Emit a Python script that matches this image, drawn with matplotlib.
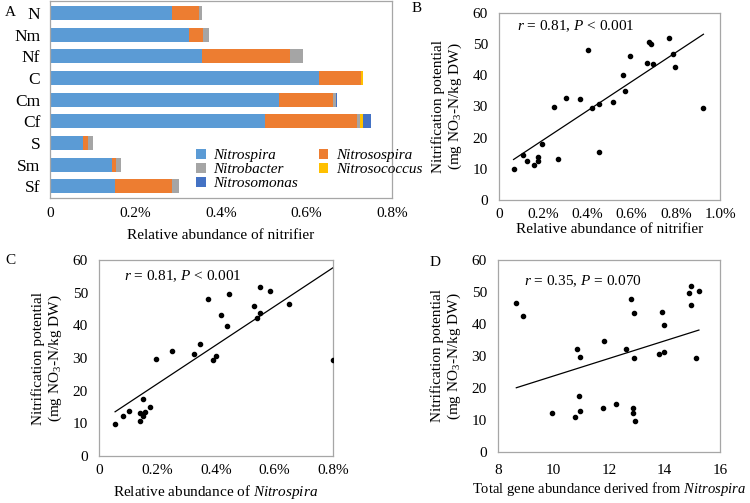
import numpy as np
import matplotlib.pyplot as plt
from matplotlib.ticker import FuncFormatter

plt.rcParams['font.family'] = ['Liberation Serif', 'DejaVu Serif']
plt.rcParams['mathtext.fontset'] = 'custom'
plt.rcParams['mathtext.rm'] = 'Liberation Serif'
plt.rcParams['mathtext.it'] = 'Liberation Serif:italic'

# panel A: relative abundance (%) of nitrifier genera per sample
samples = ['N', 'Nm', 'Nf', 'C', 'Cm', 'Cf', 'S', 'Sm', 'Sf']
genera = ['Nitrospira', 'Nitrosospira', 'Nitrobacter', 'Nitrosococcus', 'Nitrosomonas']
nitrospira = [0.286, 0.324, 0.356, 0.629, 0.536, 0.503, 0.078, 0.146, 0.152]
nitrosospira = [0.063, 0.033, 0.205, 0.098, 0.127, 0.214, 0.011, 0.008, 0.134]
nitrobacter = [0.007, 0.016, 0.031, 0.001, 0.005, 0.008, 0.012, 0.013, 0.016]
nitrosococcus = [0.000, 0.000, 0.000, 0.003, 0.002, 0.008, 0.000, 0.000, 0.000]
nitrosomonas = [0.000, 0.000, 0.000, 0.001, 0.002, 0.017, 0.000, 0.000, 0.000]
colors = ['#5B9BD5', '#ED7D31', '#A5A5A5', '#FFC000', '#4472C4']

# panel B: total nitrifier abundance (%) vs nitrification potential
b_x = [0.066, 0.110, 0.128, 0.158, 0.176, 0.176, 0.194, 0.248, 0.266, 0.304,
       0.368, 0.405, 0.421, 0.451, 0.451, 0.514, 0.561, 0.568, 0.595, 0.669,
       0.678, 0.686, 0.696, 0.768, 0.788, 0.795, 0.925]
b_y = [10.0, 14.3, 12.6, 11.1, 13.9, 12.5, 18.1, 29.8, 13.3, 32.6,
       32.5, 48.2, 29.6, 30.7, 15.5, 31.4, 40.0, 34.9, 46.2, 44.1,
       50.6, 49.9, 43.7, 52.0, 46.8, 42.7, 29.5]

# panel C: Nitrospira abundance (%) vs nitrification potential
c_x = [0.055, 0.083, 0.102, 0.139, 0.139, 0.149, 0.149, 0.158, 0.176, 0.194,
       0.251, 0.324, 0.344, 0.372, 0.390, 0.399, 0.418, 0.437, 0.446, 0.529,
       0.540, 0.549, 0.549, 0.586, 0.650, 0.800]
c_y = [9.7, 12.1, 13.9, 10.7, 13.1, 12.1, 17.6, 13.5, 15.1, 29.7,
       32.2, 31.1, 34.4, 48.0, 29.4, 30.6, 43.3, 39.8, 49.7, 45.8,
       42.3, 51.7, 43.8, 50.4, 46.6, 29.3]

# panel D: total Nitrospira gene abundance vs nitrification potential
d_x = [8.66, 8.90, 9.94, 10.76, 10.86, 10.92, 10.95, 10.95, 11.79, 11.82,
       12.26, 12.62, 12.80, 12.85, 12.87, 12.90, 12.91, 12.93, 13.79, 13.91,
       13.97, 13.99, 14.87, 14.97, 14.96, 15.14, 15.24]
d_y = [46.6, 42.5, 12.2, 10.8, 32.3, 17.6, 29.6, 12.9, 13.6, 34.6,
       15.1, 32.2, 47.9, 13.9, 12.2, 29.4, 43.3, 9.6, 30.6, 43.8,
       39.8, 31.2, 49.7, 51.9, 45.9, 29.4, 50.4]

fig = plt.figure(figsize=(7.5, 5.03), dpi=100)
ax_a = fig.add_axes([0.0667, 0.606, 0.456, 0.392])
ax_b = fig.add_axes([0.6653, 0.6024, 0.2947, 0.3718])
ax_c = fig.add_axes([0.132, 0.0934, 0.312, 0.3897])
ax_d = fig.add_axes([0.664, 0.1014, 0.296, 0.3817])

fs = 11
edge = '#A6A6A6'


def pct(v, pos):
    return '0' if v == 0 else '%.1f%%' % v


def style(ax):
    for s in ax.spines.values():
        s.set_color(edge)
        s.set_linewidth(0.9)
    ax.tick_params(length=0, labelsize=fs)
    ax.tick_params(axis='x', pad=6)
    ax.tick_params(axis='y', pad=8)


# A: stacked bars
ypos = np.arange(len(samples))
left = np.zeros(len(samples))
handles = []
for name, vals, col in zip(genera, [nitrospira, nitrosospira, nitrobacter, nitrosococcus, nitrosomonas], colors):
    h = ax_a.barh(ypos, vals, left=left, height=0.65, color=col, label=name)
    handles.append(h)
    left += np.array(vals)
style(ax_a)
ax_a.set_yticks(ypos)
ax_a.set_yticklabels(samples, fontsize=12.5)
ax_a.tick_params(axis='y', pad=7)
ax_a.set_ylim(len(samples) - 0.45, -0.55)
ax_a.set_xlim(0, 0.8)
ax_a.set_xticks([0, 0.2, 0.4, 0.6, 0.8])
ax_a.xaxis.set_major_formatter(FuncFormatter(pct))
ax_a.set_xlabel('Relative abundance of nitrifier', fontsize=fs, labelpad=7)
order = [0, 2, 4, 1, 3]
ax_a.legend([handles[i] for i in order], [genera[i] for i in order], ncol=2,
            loc='upper left', bbox_to_anchor=(0.41, 0.28), borderaxespad=0,
            frameon=False, prop={'style': 'italic', 'size': fs},
            handlelength=0.6, handleheight=0.6, handletextpad=0.5,
            columnspacing=1.4, labelspacing=0.05)


def scatter_panel(ax, x, y, xlim, xticks, fmt, note, note_xy):
    ax.scatter(x, y, s=9, color='black', zorder=3)
    k, b0 = np.polyfit(x, y, 1)
    xs = np.array([min(x), max(x)])
    ax.plot(xs, k * xs + b0, color='black', lw=0.9)
    ax.set_xlim(*xlim)
    ax.set_xticks(xticks)
    if fmt is not None:
        ax.xaxis.set_major_formatter(fmt)
    ax.set_ylim(0, 60)
    ax.set_yticks(range(0, 61, 10))
    ax.set_ylabel('Nitrification potential\n(mg NO$_3$-N/kg DW)', fontsize=fs,
                  linespacing=1.15, labelpad=6)
    ax.text(note_xy[0], note_xy[1], note, transform=ax.transAxes, fontsize=fs,
            ha='left', va='center')
    style(ax)


scatter_panel(ax_b, b_x, b_y, (0, 1.0), [0, 0.2, 0.4, 0.6, 0.8, 1.0],
              FuncFormatter(pct), '$r$ = 0.81, $P$ < 0.001', (0.08, 0.93))
ax_b.set_xlabel('Relative abundance of nitrifier', fontsize=fs, labelpad=1)

scatter_panel(ax_c, c_x, c_y, (0, 0.8), [0, 0.2, 0.4, 0.6, 0.8],
              FuncFormatter(pct), '$r$ = 0.81, $P$ < 0.001', (0.107, 0.918))
ax_c.set_xlabel('Relative abundance of $Nitrospira$', fontsize=fs, labelpad=4)

scatter_panel(ax_d, d_x, d_y, (8, 16), [8, 10, 12, 14, 16],
              None, '$r$ = 0.35, $P$ = 0.070', (0.117, 0.89))
ax_d.tick_params(axis='x', pad=9)
ax_d.set_xlabel('Total gene abundance derived from $Nitrospira$', fontsize=10.5, labelpad=2)

fig.text(5 / 750, 1 - 12 / 503, 'A', fontsize=fs, va='center')
fig.text(412 / 750, 1 - 8 / 503, 'B', fontsize=fs, va='center')
fig.text(5 / 750, 1 - 260 / 503, 'C', fontsize=fs, va='center')
fig.text(430 / 750, 1 - 262 / 503, 'D', fontsize=fs, va='center')

fig.savefig('out.png', dpi=100)
